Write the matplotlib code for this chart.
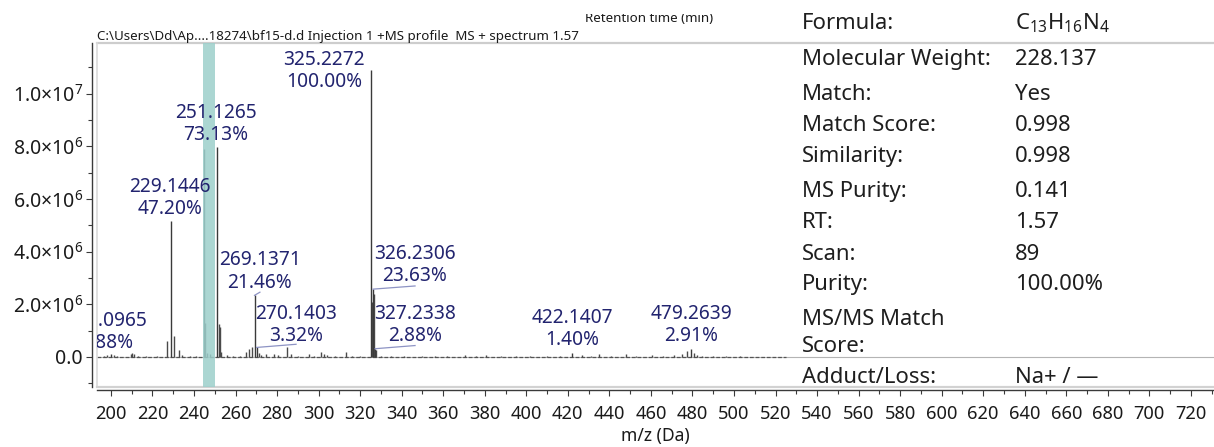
import matplotlib.pyplot as plt
from matplotlib.ticker import MultipleLocator, FuncFormatter
from matplotlib.transforms import Bbox
import numpy as np

plt.rcParams['font.family'] = ['Noto Sans', 'DejaVu Sans']
plt.rcParams['mathtext.fontset'] = 'custom'
plt.rcParams['mathtext.rm'] = 'Noto Sans'
plt.rcParams['mathtext.it'] = 'Noto Sans:italic'
plt.rcParams['mathtext.bf'] = 'Noto Sans:bold'

# --- labelled peaks (m/z, relative abundance in %) ---
peak_mz = [200.0965, 229.1446, 251.1265, 269.1371, 270.1403,
           325.2272, 326.2306, 327.2338, 422.1407, 479.2639]
peak_pct = [0.88, 47.20, 73.13, 21.46, 3.32,
            100.00, 23.63, 2.88, 1.40, 2.91]
base_peak = 1.09e7  # counts of the 100 % peak

# --- unlabelled signals: m/z and counts ---
minor_mz = [196.5, 198.2, 201.5, 203.0, 209.5, 210.3, 211.0, 213.0, 217.0, 222.0,
            226.8, 230.15, 232.7, 234.0, 238.0, 241.0, 244.6, 245.5, 246.3, 247.5,
            252.0, 252.3, 253.2, 256.0, 259.0, 262.0, 265.1, 266.4, 267.7, 271.3,
            272.5, 274.5, 278.5, 280.5, 284.9, 286.5, 290.0, 295.3, 298.0, 301.0,
            302.5, 304.0, 308.0, 313.0, 316.0, 320.0, 325.6, 326.5, 327.6, 330.0,
            335.0, 341.0, 350.0, 356.0, 362.0, 370.7, 376.0, 380.4, 388.0, 395.0,
            402.0, 410.0, 416.0, 426.8, 431.0, 434.9, 441.0, 447.8, 453.0, 460.5,
            466.0, 471.0, 475.1, 477.3, 480.7, 482.0, 484.6, 490.0, 496.0, 503.0]
minor_int = [0.05e6, 0.06e6, 0.07e6, 0.05e6, 0.12e6, 0.15e6, 0.13e6, 0.05e6, 0.04e6, 0.04e6,
             0.60e6, 0.78e6, 0.28e6, 0.08e6, 0.04e6, 0.05e6, 7.90e6, 1.30e6, 0.15e6, 0.12e6,
             1.25e6, 1.15e6, 0.20e6, 0.06e6, 0.04e6, 0.05e6, 0.20e6, 0.30e6, 0.38e6, 0.15e6,
             0.08e6, 0.10e6, 0.10e6, 0.06e6, 0.38e6, 0.10e6, 0.05e6, 0.12e6, 0.05e6, 0.20e6,
             0.12e6, 0.06e6, 0.04e6, 0.20e6, 0.04e6, 0.04e6, 2.10e6, 2.40e6, 0.25e6, 0.05e6,
             0.04e6, 0.03e6, 0.04e6, 0.05e6, 0.04e6, 0.06e6, 0.04e6, 0.08e6, 0.04e6, 0.04e6,
             0.05e6, 0.04e6, 0.05e6, 0.08e6, 0.04e6, 0.10e6, 0.05e6, 0.10e6, 0.04e6, 0.07e6,
             0.05e6, 0.06e6, 0.12e6, 0.22e6, 0.15e6, 0.08e6, 0.05e6, 0.04e6, 0.04e6, 0.04e6]

# label placement: shift in m/z and gap above the peak top (counts)
label_dx = [-2.6, -0.7, -0.5, 2.6, 19.0, -22.6, 20.2, 19.2, -0.1, 0.2]
label_dy = [0.05e6, 0.1e6, 0.08e6, 0.1e6, 0.06e6, -0.85e6, 0.12e6, 0.1e6, 0.12e6, 0.1e6]

info_labels = ['Formula:', 'Molecular Weight:', 'Match:', 'Match Score:', 'Similarity:',
               'MS Purity:', 'RT:', 'Scan:', 'Purity:', 'MS/MS Match\nScore:', 'Adduct/Loss:']
info_values = [r'$\mathregular{C_{13}H_{16}N_{4}}$', '228.137', 'Yes', '0.998', '0.998',
               '0.141', '1.57', '89', '100.00%', '', 'Na+ / \u2014']
info_rows_px = [29, 65, 100, 131, 162, 197, 228, 260, 290, 325, 383]

header = r'C:\Users\Dd\Ap....18274\bf15-d.d Injection 1 +MS profile  MS + spectrum 1.57'
highlight = (244.3, 250.1)

W, H = 1214, 447
fig = plt.figure(figsize=(W / 100, H / 100), dpi=100)
ax = fig.add_axes([97 / W, (H - 387) / H, (W - 97) / W, (387 - 43) / H])
ax.set_xlim(193.3, 731.1)
ax.set_ylim(-1.14e6, 11.92e6)

peak_int = [p / 100 * base_peak for p in peak_pct]

# baseline
ax.axhline(0, color='#b4b4b4', lw=0.8, zorder=1)
ax.plot([193.3, 525], [0, 0], color='#555555', lw=0.9, ls=(0, (3, 1.5)), zorder=2)

ax.vlines(minor_mz, 0, minor_int, color='#4a4a4a', lw=1.0, zorder=3)
ax.vlines(peak_mz, 0, peak_int, color='#3a3a3a', lw=1.0, zorder=3)
ax.axvspan(*highlight, color='#9ccfcb', alpha=0.85, lw=0, zorder=4)

for mz, inten, pct, dx, dy in zip(peak_mz, peak_int, peak_pct, label_dx, label_dy):
    lx = mz + dx
    ax.text(lx, inten + dy, f'{mz:.4f}\n{pct:.2f}%', ha='center', va='bottom',
            fontsize=13.8, color='#22246f', linespacing=1.15, clip_on=True, zorder=5)
    if dx > 1:
        ax.plot([mz, lx], [inten, inten + 0.12e6], color='#8d93c4', lw=0.9, zorder=5)

# frame around the plotting area
ax.plot([0, 1], [1, 1], transform=ax.transAxes, color='#cdcdcd', lw=1.6, clip_on=False)
ax.plot([0, 0], [0, 1], transform=ax.transAxes, color='#dadada', lw=1.2, clip_on=False)
ax.plot([0, 1], [0, 0], transform=ax.transAxes, color='#d2d2d2', lw=1.6, clip_on=False)

for s in ['top', 'right']:
    ax.spines[s].set_visible(False)
ax.spines['left'].set_position(('outward', 3.6))
ax.spines['bottom'].set_position(('outward', 2.2))
for s in ['left', 'bottom']:
    ax.spines[s].set_color('#3a3a3a')
    ax.spines[s].set_linewidth(1.0)

ax.xaxis.set_major_locator(MultipleLocator(20))
ax.xaxis.set_minor_locator(MultipleLocator(10))
ax.yaxis.set_major_locator(MultipleLocator(2e6))
ax.yaxis.set_minor_locator(MultipleLocator(1e6))


def sci(v, pos):
    if v == 0:
        return '0.0'
    e = int(np.floor(np.log10(abs(v))))
    return r'$\mathregular{%.1f{\times}10^{%d}}$' % (v / 10 ** e, e)


ax.yaxis.set_major_formatter(FuncFormatter(sci))
ax.tick_params(which='major', length=4.5, width=0.8, color='#3a3a3a',
               labelsize=13.2, labelcolor='#1a1a1a')
ax.tick_params(which='minor', length=3, width=0.8, color='#3a3a3a')
ax.tick_params(axis='x', pad=6)
ax.tick_params(axis='y', pad=2, labelsize=14)
ax.set_xlabel('m/z (Da)', fontsize=12.6, color='#1a1a1a', labelpad=3)

# header lines
fig.text(97 / W, 1 - 40 / H, header, fontsize=9.6, color='#1a1a1a', va='baseline')
rt = fig.text(585 / W, 1 - 21.5 / H, 'Retention time (min)', fontsize=9.6,
              color='#1a1a1a', va='baseline')
rt.set_clip_box(Bbox.from_extents(0, 0, W, H - 14))
rt.set_clip_on(True)

# compound information table
for lab, val, yb in zip(info_labels, info_values, info_rows_px):
    for i, line in enumerate(lab.split('\n')):
        fig.text(802 / W, 1 - (yb + 27 * i) / H, line, fontsize=15.9,
                 color='#1e1e1e', va='baseline')
    if val:
        fig.text(1015 / W, 1 - yb / H, val, fontsize=15.9, color='#1e1e1e', va='baseline')

fig.savefig('out.png', dpi=100)
